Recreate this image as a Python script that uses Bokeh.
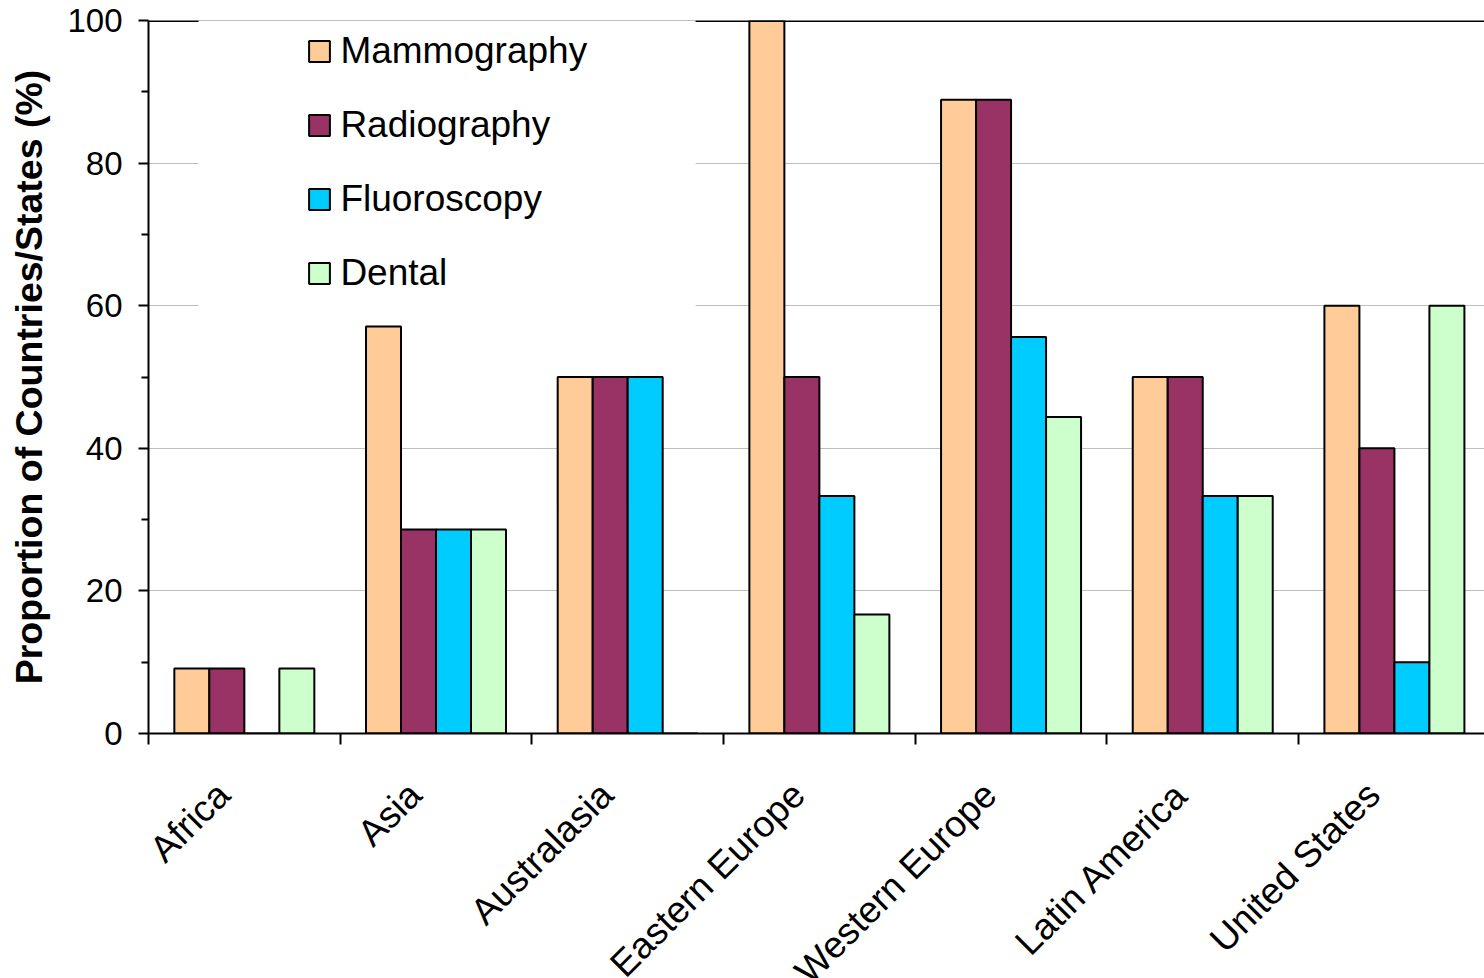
import math

from bokeh.core.properties import value
from bokeh.embed import file_html
from bokeh.layouts import column
from bokeh.models import (BoxAnnotation, ColumnDataSource, FixedTicker,
                          Legend, LegendItem, Range1d, Span)
from bokeh.plotting import figure
from bokeh.resources import INLINE

# Share of countries/states in each region with a QA programme, by modality (%)
regions = ["Africa", "Asia", "Australasia", "Eastern Europe",
           "Western Europe", "Latin America", "United States"]
mammography = [9.1, 57.1, 50.0, 100.0, 88.9, 50.0, 60.0]
radiography = [9.1, 28.6, 50.0, 50.0, 88.9, 50.0, 40.0]
fluoroscopy = [0.0, 28.6, 50.0, 33.3, 55.6, 33.3, 10.0]
dental = [9.1, 28.6, 0.0, 16.7, 44.4, 33.3, 60.0]

series_names = ["Mammography", "Radiography", "Fluoroscopy", "Dental"]
series_values = [mammography, radiography, fluoroscopy, dental]
series_colors = ["#FFCC99", "#993366", "#00CCFF", "#CCFFCC"]

y_ticks = [0, 20, 40, 60, 80, 100]
y_minor_ticks = [10, 30, 50, 70, 90]
grid_ticks = [20, 40, 60, 80]

FONT = "Liberation Sans"
BAR_W = 0.1826          # width of one bar, in group units
X_END = 6.97            # the last group runs past the page edge
WIDTH = 1484
LEFT = 148
CHART_H = 763           # chart part: plot area, x-axis ticks, room for "0"
LABEL_H = 215           # strip under the chart for the slanted region names

p = figure(width=WIDTH, height=CHART_H,
           x_range=Range1d(0, X_END), y_range=Range1d(0, 100),
           output_backend="svg", toolbar_location=None,
           min_border_left=LEFT, min_border_right=0,
           min_border_top=20, min_border_bottom=30)
p.outline_line_color = None
p.background_fill_color = "white"
p.border_fill_color = "white"

# grid: dotted grey lines at 20..80, a solid black line at the top
p.xgrid.visible = False
p.ygrid.ticker = FixedTicker(ticks=grid_ticks)
p.ygrid.grid_line_color = "#7f7f7f"
p.ygrid.grid_line_dash = "1 1"
p.ygrid.grid_line_width = 1

top_line = Span(location=100, dimension="width", line_color="black", line_width=3)
p.add_layout(top_line)

# grouped bars
renderers = []
for k, (name, vals, color) in enumerate(zip(series_names, series_values, series_colors)):
    xs = [i + 0.5 + (k - 1.5) * BAR_W for i in range(len(regions))]
    src = ColumnDataSource(dict(x=xs, top=vals, region=regions))
    r = p.vbar(x="x", top="top", bottom=0, width=BAR_W, source=src,
               fill_color=color, line_color="black", line_width=2)
    renderers.append(r)

# white backdrop behind the legend
backdrop = BoxAnnotation(left=0.261, right=2.854, bottom=59.0, top=103,
                         fill_color="white", fill_alpha=1.0, line_color=None)
p.add_layout(backdrop)

legend = Legend(items=[LegendItem(label=n, renderers=[r])
                       for n, r in zip(series_names, renderers)],
                location=(158.4, 437), orientation="vertical",
                padding=0, margin=0, spacing=28,
                glyph_width=26, glyph_height=26, label_height=46,
                label_standoff=8,
                label_text_font=FONT, label_text_font_size="37px",
                label_text_color="black",
                border_line_color=None, background_fill_alpha=0.0)
p.add_layout(legend)

# y axis
yax = p.yaxis[0]
yax.ticker = FixedTicker(ticks=y_ticks, minor_ticks=y_minor_ticks)
yax.axis_line_width = 2
yax.axis_line_color = "black"
yax.major_tick_out = 10
yax.major_tick_in = 0
yax.minor_tick_out = 7
yax.minor_tick_in = 0
yax.major_tick_line_width = 2
yax.minor_tick_line_width = 2
yax.major_label_text_font = FONT
yax.major_label_text_font_size = "33px"
yax.major_label_text_color = "black"
yax.major_label_standoff = 16
yax.axis_label = "Proportion of Countries/States (%)"
yax.axis_label_text_font = FONT
yax.axis_label_text_font_size = "37.5px"
yax.axis_label_text_font_style = "bold"
yax.axis_label_text_color = "black"
yax.axis_label_standoff = 14

# x axis: tick marks at the group boundaries only
xax = p.xaxis[0]
xax.ticker = FixedTicker(ticks=[], minor_ticks=list(range(len(regions) + 1)))
xax.axis_line_width = 2
xax.axis_line_color = "black"
xax.major_tick_out = 0
xax.major_tick_in = 0
xax.minor_tick_out = 11
xax.minor_tick_in = 0
xax.minor_tick_line_width = 2
xax.major_label_standoff = 0

# slanted region names, on a strip that shares the chart's x scale
names = figure(width=WIDTH, height=LABEL_H,
               x_range=p.x_range, y_range=Range1d(-LABEL_H, 0),
               output_backend="svg", toolbar_location=None,
               x_axis_location=None, y_axis_location=None,
               min_border_left=LEFT, min_border_right=0,
               min_border_top=0, min_border_bottom=0)
names.outline_line_color = None
names.grid.visible = False
names.background_fill_color = "white"
names.border_fill_color = "white"

name_src = ColumnDataSource(dict(x=[i + 0.5 for i in range(len(regions))],
                                 y=[-25] * len(regions), text=regions))
names.text(x="x", y="y", text="text", source=name_src,
           angle=math.pi / 4, x_offset=-21,
           text_align="right", text_baseline="alphabetic",
           text_font=value(FONT), text_font_size="37px", text_color="black")

layout = column(p, names, spacing=0)
open("out.html", "w").write(file_html(layout, INLINE))
